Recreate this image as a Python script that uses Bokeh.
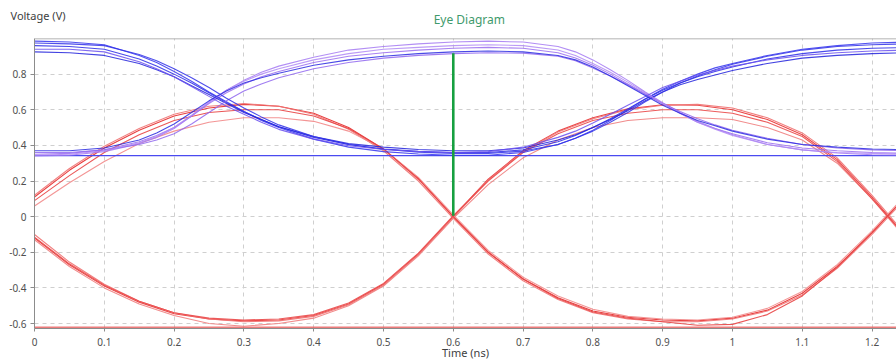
from bokeh.plotting import figure
from bokeh.models import FixedTicker, Span, Range1d, Label
from bokeh.embed import file_html
from bokeh.resources import INLINE

# ---- data ----
# time grid for the blue traces (finer around the two transitions)
t_blue = [0.00, 0.05, 0.10, 0.15,
          0.175, 0.20, 0.225, 0.25, 0.275, 0.30, 0.325, 0.35,
          0.40, 0.45, 0.50, 0.55, 0.60, 0.65, 0.70, 0.75,
          0.775, 0.80, 0.825, 0.85, 0.875, 0.90, 0.925, 0.95, 0.975, 1.00,
          1.05, 1.10, 1.15, 1.20, 1.25]

# blue traces starting high (fall at ~0.255 ns, rise at ~0.883 ns)
blue_hlh_1 = [0.96, 0.955, 0.94, 0.885,
              0.845, 0.80, 0.75, 0.695, 0.64, 0.59, 0.545, 0.505,
              0.445, 0.405, 0.38, 0.367, 0.36, 0.36, 0.375, 0.42,
              0.455, 0.50, 0.55, 0.605, 0.66, 0.71, 0.75, 0.785, 0.815, 0.84,
              0.885, 0.915, 0.935, 0.945, 0.95]
blue_hlh_2 = [0.985, 0.98, 0.965, 0.905,
              0.865, 0.815, 0.76, 0.70, 0.645, 0.59, 0.54, 0.50,
              0.435, 0.39, 0.365, 0.352, 0.345, 0.345, 0.36, 0.405,
              0.44, 0.485, 0.54, 0.60, 0.66, 0.715, 0.76, 0.80, 0.835, 0.86,
              0.905, 0.94, 0.96, 0.975, 0.98]
blue_hlh_3 = [0.925, 0.92, 0.905, 0.86,
              0.825, 0.785, 0.735, 0.685, 0.635, 0.585, 0.545, 0.505,
              0.45, 0.41, 0.39, 0.377, 0.37, 0.37, 0.385, 0.43,
              0.46, 0.50, 0.545, 0.595, 0.65, 0.70, 0.74, 0.77, 0.795, 0.82,
              0.86, 0.89, 0.905, 0.915, 0.92]
blue_hlh_4 = [0.975, 0.97, 0.96, 0.91,
              0.875, 0.83, 0.78, 0.725, 0.665, 0.61, 0.56, 0.515,
              0.45, 0.405, 0.378, 0.362, 0.355, 0.355, 0.368, 0.405,
              0.44, 0.48, 0.53, 0.585, 0.645, 0.70, 0.75, 0.79, 0.825, 0.855,
              0.90, 0.935, 0.955, 0.965, 0.97]
blue_hlh_5 = [0.94, 0.94, 0.925, 0.87,
              0.83, 0.785, 0.73, 0.675, 0.62, 0.575, 0.53, 0.49,
              0.435, 0.398, 0.377, 0.366, 0.36, 0.365, 0.39, 0.445,
              0.48, 0.525, 0.575, 0.625, 0.675, 0.725, 0.76, 0.795, 0.82, 0.845,
              0.88, 0.905, 0.92, 0.93, 0.935]
# blue traces starting low
blue_lhl_1 = [0.35, 0.355, 0.375, 0.42,
              0.455, 0.50, 0.565, 0.635, 0.695, 0.745, 0.785, 0.815,
              0.865, 0.90, 0.92, 0.935, 0.945, 0.95, 0.945, 0.92,
              0.89, 0.85, 0.80, 0.745, 0.69, 0.635, 0.58, 0.53, 0.495, 0.465,
              0.415, 0.385, 0.37, 0.36, 0.355]
blue_lhl_2 = [0.34, 0.345, 0.365, 0.41,
              0.445, 0.495, 0.565, 0.64, 0.71, 0.765, 0.81, 0.845,
              0.895, 0.935, 0.955, 0.97, 0.98, 0.985, 0.98, 0.955,
              0.925, 0.88, 0.825, 0.765, 0.70, 0.64, 0.585, 0.535, 0.495, 0.46,
              0.405, 0.375, 0.357, 0.347, 0.345]
blue_lhl_3 = [0.36, 0.36, 0.375, 0.405,
              0.43, 0.465, 0.52, 0.585, 0.65, 0.705, 0.745, 0.78,
              0.83, 0.865, 0.89, 0.905, 0.915, 0.92, 0.918, 0.90,
              0.875, 0.835, 0.79, 0.74, 0.685, 0.635, 0.59, 0.55, 0.515, 0.485,
              0.44, 0.405, 0.385, 0.375, 0.37]
blue_lhl_4 = [0.345, 0.35, 0.37, 0.415,
              0.45, 0.50, 0.57, 0.645, 0.71, 0.76, 0.80, 0.83,
              0.88, 0.915, 0.94, 0.95, 0.96, 0.965, 0.96, 0.935,
              0.905, 0.86, 0.81, 0.755, 0.695, 0.635, 0.58, 0.53, 0.49, 0.455,
              0.405, 0.375, 0.36, 0.355, 0.35]
blue_lhl_5 = [0.37, 0.37, 0.385, 0.43,
              0.47, 0.52, 0.585, 0.65, 0.705, 0.75, 0.78, 0.805,
              0.85, 0.88, 0.90, 0.915, 0.925, 0.93, 0.925, 0.905,
              0.88, 0.84, 0.79, 0.735, 0.68, 0.625, 0.58, 0.54, 0.51, 0.48,
              0.435, 0.405, 0.39, 0.38, 0.375]

# time grid for the red traces
t_red = [0.00, 0.05, 0.10, 0.15, 0.20, 0.25, 0.30, 0.35, 0.40, 0.45, 0.50, 0.55, 0.60,
         0.65, 0.70, 0.75, 0.80, 0.85, 0.90, 0.95, 1.00, 1.05, 1.10, 1.15, 1.20, 1.25]
# red traces: peak near 0.3 ns
red_up_1 = [0.11, 0.26, 0.385, 0.485, 0.565, 0.61, 0.63, 0.62, 0.58, 0.50, 0.38, 0.215, 0.0,
            -0.20, -0.35, -0.455, -0.53, -0.565, -0.58, -0.585, -0.57, -0.525, -0.43, -0.28, -0.09, 0.12]
red_up_2 = [0.12, 0.27, 0.395, 0.495, 0.575, 0.62, 0.635, 0.62, 0.575, 0.49, 0.37, 0.20, -0.01,
            -0.21, -0.36, -0.465, -0.54, -0.575, -0.59, -0.59, -0.575, -0.53, -0.44, -0.29, -0.10, 0.11]
red_up_3 = [0.06, 0.19, 0.31, 0.41, 0.48, 0.53, 0.555, 0.555, 0.535, 0.48, 0.38, 0.22, 0.01,
            -0.19, -0.34, -0.445, -0.52, -0.56, -0.575, -0.58, -0.565, -0.515, -0.42, -0.27, -0.08, 0.13]
red_up_4 = [0.09, 0.23, 0.36, 0.46, 0.54, 0.585, 0.60, 0.60, 0.565, 0.495, 0.38, 0.21, 0.0,
            -0.20, -0.35, -0.46, -0.535, -0.57, -0.59, -0.61, -0.605, -0.55, -0.445, -0.285, -0.09, 0.12]
# red traces: trough near 0.3 ns
red_dn_1 = [-0.12, -0.27, -0.39, -0.48, -0.545, -0.575, -0.585, -0.58, -0.555, -0.49, -0.38, -0.21, 0.0,
            0.21, 0.37, 0.48, 0.555, 0.605, 0.628, 0.625, 0.60, 0.545, 0.46, 0.32, 0.11, -0.12]
red_dn_2 = [-0.10, -0.255, -0.38, -0.475, -0.54, -0.575, -0.59, -0.585, -0.56, -0.495, -0.385, -0.215, -0.005,
            0.205, 0.365, 0.475, 0.55, 0.60, 0.625, 0.63, 0.61, 0.555, 0.47, 0.33, 0.12, -0.11]
red_dn_3 = [-0.13, -0.28, -0.40, -0.49, -0.555, -0.60, -0.615, -0.60, -0.57, -0.50, -0.39, -0.22, -0.01,
            0.18, 0.33, 0.43, 0.50, 0.54, 0.555, 0.555, 0.545, 0.50, 0.43, 0.30, 0.10, -0.13]
red_dn_4 = [-0.115, -0.265, -0.385, -0.475, -0.54, -0.57, -0.58, -0.575, -0.55, -0.485, -0.375, -0.205, 0.005,
            0.20, 0.36, 0.465, 0.54, 0.58, 0.60, 0.60, 0.58, 0.53, 0.45, 0.31, 0.10, -0.12]

blue_flat_level = 0.343
red_floor_level = -0.622
eye_x = 0.6
eye_bottom = 0.005
eye_top = 0.917

x_ticks = [0.0, 0.1, 0.2, 0.3, 0.4, 0.5, 0.6, 0.7, 0.8, 0.9, 1.0, 1.1, 1.2]
x_tick_labels = ["0", "0.1", "0.2", "0.3", "0.4", "0.5", "0.6", "0.7", "0.8", "0.9", "1", "1.1", "1.2"]
y_ticks = [-0.6, -0.4, -0.2, 0.0, 0.2, 0.4, 0.6, 0.8]
y_tick_labels = ["-0.6", "-0.4", "-0.2", "0", "0.2", "0.4", "0.6", "0.8"]

title_text = "Eye Diagram"
x_label = "Time (ns)"
y_label = "Voltage (V)"

# ---- figure ----
FONT = "Noto Sans"
X_END = 1.235
Y_TOP = 1.0
p = figure(width=896, height=362, output_backend="svg", toolbar_location=None,
           x_range=Range1d(0, X_END), y_range=Range1d(-0.628, Y_TOP),
           min_border_left=34, min_border_right=0, min_border_top=38, min_border_bottom=32)
p.outline_line_color = None
p.background_fill_color = "white"
p.border_fill_color = "white"
p.title.visible = False

# texts above the frame: labels living in the "above" side panel (not clipped)
eye_label = Label(x=0.623, y=Y_TOP, y_offset=19, text=title_text, text_font=FONT,
                  text_font_size="12px", text_color="#3f9a6c",
                  text_baseline="middle", text_align="center")
volt_label = Label(x=0.0, y=Y_TOP, x_offset=-24, y_offset=23, text=y_label, text_font=FONT,
                   text_font_size="11px", text_color="#404040",
                   text_baseline="middle", text_align="left")
p.add_layout(eye_label, "above")
p.add_layout(volt_label, "above")

blue_traces = [blue_hlh_1, blue_lhl_1, blue_hlh_2, blue_lhl_2, blue_hlh_3,
               blue_lhl_3, blue_hlh_4, blue_lhl_4, blue_hlh_5, blue_lhl_5]
blue_cols = ["#2a2ae6", "#9a6cf0", "#3434ee", "#a47af2", "#2222dc",
             "#8f66ee", "#3030e8", "#b08af4", "#6a50ee", "#2a2ae0"]
red_traces = [red_up_1, red_dn_1, red_up_2, red_dn_2, red_up_3, red_dn_3, red_up_4, red_dn_4]
red_cols = ["#e62a2a", "#e83434", "#f07474", "#ef7070", "#f28a8a", "#f08080", "#e84444", "#ea4a4a"]

# red floor and traces
p.line([t_red[0], t_red[-1]], [red_floor_level, red_floor_level], line_color="#e85a5a",
       line_width=2, alpha=0.8)
p.multi_line(xs=[t_red] * len(red_traces), ys=red_traces, line_color=red_cols,
             line_width=1.1, alpha=0.9)

# blue traces
p.line([t_blue[0], t_blue[-1]], [blue_flat_level, blue_flat_level], line_color="#4a4af0",
       line_width=1.3)
p.multi_line(xs=[t_blue] * len(blue_traces), ys=blue_traces, line_color=blue_cols,
             line_width=1.1, alpha=0.85)

# eye opening marker
p.segment(x0=[eye_x], y0=[eye_bottom], x1=[eye_x], y1=[eye_top], line_color="#17a040", line_width=2.6)

# top border
p.add_layout(Span(location=Y_TOP, dimension="width", line_color="#9a9a9a", line_width=1.5))

# axes
for ax in (p.xaxis[0], p.yaxis[0]):
    ax.axis_line_color = "#8c8c8c"
    ax.major_tick_line_color = "#8c8c8c"
    ax.minor_tick_line_color = None
    ax.major_label_text_font = FONT
    ax.major_label_text_font_size = "10px"
    ax.major_label_text_color = "#505050"
    ax.major_tick_in = 0

p.xaxis.ticker = FixedTicker(ticks=x_ticks)
p.xaxis.major_label_overrides = dict(zip(x_ticks, x_tick_labels))
p.xaxis.major_tick_out = 3
p.xaxis.major_label_standoff = 6
p.xaxis.axis_label = x_label
p.xaxis.axis_label_standoff = -4
p.xaxis.axis_label_text_font = FONT
p.xaxis.axis_label_text_font_size = "11px"
p.xaxis.axis_label_text_font_style = "normal"
p.xaxis.axis_label_text_color = "#404040"
p.yaxis.ticker = FixedTicker(ticks=y_ticks)
p.yaxis.major_label_overrides = dict(zip(y_ticks, y_tick_labels))
p.yaxis.major_tick_out = 4
p.yaxis.major_label_standoff = 4

p.xgrid.ticker = FixedTicker(ticks=x_ticks)
p.ygrid.ticker = FixedTicker(ticks=y_ticks)
for g in (p.xgrid[0], p.ygrid[0]):
    g.grid_line_color = "#cfcfcf"
    g.grid_line_dash = "4 4"
    g.grid_line_width = 1

open("out.html", "w").write(file_html(p, INLINE))
